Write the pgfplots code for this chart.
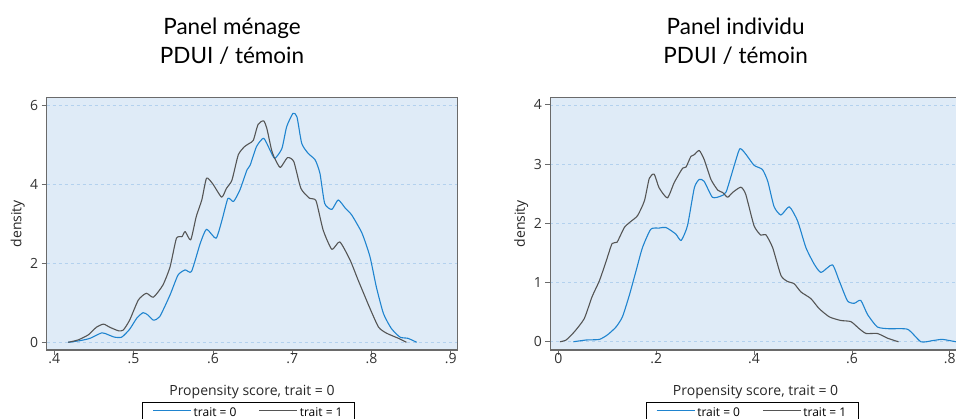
\documentclass[border=0pt]{standalone}
\usepackage{fontspec}
\setmainfont{Open Sans}
\newfontfamily\titlefont{Lato}
\usepackage{pgfplots}
\pgfplotsset{compat=1.18}
\definecolor{bg}{HTML}{DFEBF7}
\definecolor{gridc}{HTML}{B3D1EE}
\definecolor{czero}{HTML}{1F84CF}
\definecolor{cone}{HTML}{555555}
\definecolor{framec}{HTML}{6A6A6A}

\pgfplotsset{mystyle/.style={
  scale only axis, width=410.6pt, height=252.7pt,
  anchor=south west,
  axis background/.style={fill=bg},
  axis line style={framec, line width=1.2pt},
  tick style={framec, line width=0.8pt},
  tick align=outside, major tick length=5pt,
  xtick pos=bottom, ytick pos=left,
  ymajorgrids, grid style={gridc, dash pattern=on 3pt off 3pt, line width=0.7pt},
  /pgf/number format/assume math mode=true,
  ticklabel style={font=\fontsize{14}{14}\selectfont, text=black!80},
  xticklabel style={anchor=base, yshift=-8pt},
  label style={font=\fontsize{14}{14}\selectfont, text=black!85},
  ylabel style={at={(axis description cs:-0.0706,0.5)}, anchor=center},
  xlabel style={at={(axis description cs:0.5,0)}, anchor=base, yshift=-45pt},
  title style={align=center, font=\titlefont\fontsize{22.5}{28.3}\selectfont, at={(axis description cs:0.5,1)}, anchor=south, inner sep=0pt, yshift=27pt, xshift=-20pt},
  legend columns=2,
  legend style={at={(0.4915,-0.2046)}, anchor=north, draw=black, line width=0.8pt,
    font=\fontsize{12}{12}\selectfont, inner xsep=10pt, inner ysep=4pt,
    /tikz/every even column/.append style={column sep=20pt}},
  legend image code/.code={\draw[#1, line width=1.3pt] (0pt,0.5ex) -- (38pt,0.5ex);},
  every axis plot/.append style={line width=1.1pt, mark=none, line join=round, smooth, tension=0.35},
  clip=false,
}}

\begin{document}
\begin{tikzpicture}
\begin{axis}[mystyle, at={(46.7pt,-350pt)},
  xmin=0.3904, xmax=0.9082, ymin=-0.195, ymax=6.195,
  xtick={0.4,0.5,0.6,0.7,0.8,0.9}, xticklabels={.4,.5,.6,.7,.8,.9},
  ytick={0,2,4,6},
  xlabel={Propensity score, trait = 0}, ylabel={density},
  title={Panel ménage\\PDUI / témoin}]
\addplot[color=czero] coordinates {
(0.4176,0) (0.432,0.04) (0.445,0.10) (0.460,0.24) (0.468,0.19) (0.476,0.13) (0.485,0.13)
(0.495,0.33) (0.504,0.61) (0.512,0.75) (0.518,0.69) (0.525,0.56) (0.533,0.65) (0.546,1.20)
(0.556,1.70) (0.565,1.83) (0.573,1.79) (0.584,2.50) (0.592,2.86) (0.604,2.63) (0.612,3.13)
(0.619,3.64) (0.626,3.56) (0.634,3.85) (0.643,4.36) (0.647,4.48) (0.655,4.95) (0.664,5.16)
(0.672,4.86) (0.678,4.65) (0.687,4.90) (0.693,5.45) (0.701,5.79) (0.706,5.70) (0.712,5.03)
(0.720,4.78) (0.729,4.61) (0.735,4.27) (0.741,3.51) (0.750,3.36) (0.758,3.60) (0.767,3.39)
(0.775,3.22) (0.788,2.76) (0.798,2.17) (0.806,1.41) (0.815,0.73) (0.825,0.35) (0.836,0.13)
(0.846,0.10) (0.857,0)};
\addlegendentry{trait = 0}
\addplot[color=cone] coordinates {
(0.4176,0) (0.430,0.06) (0.443,0.19) (0.453,0.38) (0.462,0.46) (0.470,0.38) (0.481,0.29)
(0.487,0.31) (0.495,0.56) (0.506,1.07) (0.516,1.24) (0.525,1.14) (0.537,1.45) (0.546,1.91)
(0.554,2.63) (0.561,2.67) (0.565,2.80) (0.572,2.59) (0.579,3.18) (0.586,3.60) (0.592,4.15)
(0.600,4.00) (0.611,3.67) (0.617,3.89) (0.624,4.10) (0.632,4.74) (0.640,4.95) (0.646,5.03)
(0.651,5.11) (0.657,5.51) (0.664,5.60) (0.668,5.41) (0.674,4.86) (0.678,4.65) (0.685,4.42)
(0.694,4.67) (0.702,4.57) (0.711,3.89) (0.722,3.64) (0.730,3.58) (0.739,2.84) (0.750,2.35)
(0.760,2.54) (0.773,2.08) (0.783,1.58) (0.798,0.86) (0.809,0.38) (0.819,0.23) (0.834,0.10)
(0.844,0)};
\addlegendentry{trait = 1}
\end{axis}

\begin{axis}[mystyle, at={(550.3pt,-350pt)},
  xmin=-0.0163, xmax=0.8227, ymin=-0.139, ymax=4.128,
  xtick={0,0.2,0.4,0.6,0.8}, xticklabels={0,.2,.4,.6,.8},
  ytick={0,1,2,3,4},
  xlabel={Propensity score, trait = 0}, ylabel={density},
  title={Panel individu\\PDUI / témoin}]
\addplot[color=czero] coordinates {
(0.031,0) (0.057,0.03) (0.084,0.04) (0.101,0.12) (0.118,0.25) (0.131,0.42) (0.145,0.78)
(0.159,1.20) (0.172,1.59) (0.189,1.90) (0.206,1.92) (0.220,1.93) (0.240,1.82) (0.251,1.71)
(0.264,1.96) (0.278,2.60) (0.288,2.74) (0.298,2.71) (0.315,2.44) (0.332,2.46) (0.343,2.53)
(0.360,2.99) (0.371,3.26) (0.383,3.17) (0.400,2.98) (0.417,2.91) (0.428,2.71) (0.441,2.28)
(0.455,2.14) (0.472,2.28) (0.489,2.04) (0.506,1.59) (0.523,1.31) (0.537,1.17) (0.560,1.30)
(0.574,1.03) (0.591,0.69) (0.605,0.65) (0.618,0.70) (0.632,0.46) (0.652,0.25) (0.676,0.22)
(0.714,0.21) (0.741,0) (0.765,0.02) (0.785,0.04) (0.813,0) (0.822,0)};
\addlegendentry{trait = 0}
\addplot[color=cone] coordinates {
(0.0034,0) (0.016,0.03) (0.033,0.17) (0.053,0.39) (0.069,0.76) (0.084,1.03) (0.097,1.34)
(0.110,1.66) (0.120,1.68) (0.135,1.93) (0.148,2.03) (0.162,2.13) (0.176,2.38) (0.186,2.76)
(0.196,2.83) (0.206,2.60) (0.223,2.43) (0.237,2.69) (0.254,2.93) (0.261,2.95) (0.271,3.13)
(0.278,3.16) (0.288,3.23) (0.298,3.08) (0.312,2.74) (0.326,2.56) (0.336,2.52) (0.346,2.44)
(0.356,2.52) (0.373,2.61) (0.383,2.49) (0.400,1.96) (0.414,1.80) (0.424,1.81) (0.438,1.59)
(0.455,1.12) (0.468,1.02) (0.482,0.98) (0.496,0.84) (0.516,0.73) (0.533,0.56) (0.554,0.42)
(0.577,0.36) (0.598,0.34) (0.615,0.22) (0.629,0.14) (0.652,0.14) (0.673,0.06) (0.695,0)};
\addlegendentry{trait = 1}
\end{axis}
\pgfresetboundingbox
\path[use as bounding box] (0pt,0pt) rectangle (956pt,-418pt);
\end{tikzpicture}
\end{document}
